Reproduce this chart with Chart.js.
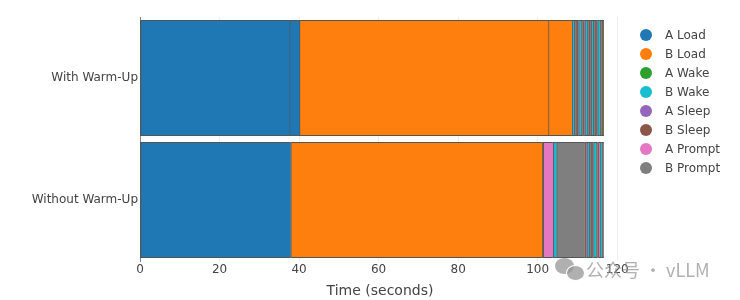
<!DOCTYPE html>
<html lang="en">
<head>
    <meta charset="UTF-8">
    <title>Warm-Up Timeline</title>
    <style>
        body { margin: 0; background: #fff; font-family: 'DejaVu Sans', sans-serif; }
        #wrap { position: relative; width: 740px; height: 300px; }
        #legend { position: absolute; left: 640px; top: 25px; }
        .item { height: 19px; display: flex; align-items: center; font-size: 12px; color: #444; }
        .dot { width: 12px; height: 12px; border-radius: 50%; margin-right: 13px; }
        #mark { position: absolute; left: 555px; top: 256px; display: flex; align-items: center;
                color: rgba(150,150,150,0.75); font-family: 'Noto Sans CJK SC', sans-serif; font-size: 18px; }
        .bubble { position: relative; width: 30px; height: 24px; margin-right: 1px; }
        .bubble span { position: absolute; border-radius: 50%; background: rgba(150,150,150,0.75); }
    </style>
</head>
<body>
<div id="wrap">
    <canvas id="timeline" width="740" height="300"></canvas>
    <div id="legend"></div>
    <div id="mark">
        <div class="bubble">
            <span style="left:0;top:1px;width:19px;height:16px"></span>
            <span style="left:11px;top:8px;width:17px;height:14px;border:1px solid #fff"></span>
        </div>
        公众号 · vLLM
    </div>
</div>

<script src="https://cdn.jsdelivr.net/npm/chart.js"></script>
<script>
    const categories = ['With Warm-Up', 'Without Warm-Up'];
    const seriesNames = ['A Load', 'B Load', 'A Wake', 'B Wake', 'A Sleep', 'B Sleep', 'A Prompt', 'B Prompt'];
    const seriesColors = ['#1f77b4', '#ff7f0e', '#2ca02c', '#17becf', '#9467bd', '#8c564b', '#e377c2', '#7f7f7f'];
    const xTicks = [0, 20, 40, 60, 80, 100, 120];

    // each bar is a sequence of steps (seconds), stacked in order
    const withWarmUpSteps = [
        'A Load', 'A Load', 'B Load', 'B Load',
        'A Sleep', 'B Wake', 'B Prompt', 'B Sleep', 'A Wake', 'A Prompt',
        'A Sleep', 'B Wake', 'B Prompt', 'B Sleep', 'A Wake', 'A Prompt',
        'A Sleep', 'B Wake', 'B Prompt', 'B Sleep', 'A Wake', 'A Prompt',
        'A Sleep', 'B Wake', 'B Prompt', 'B Sleep', 'A Wake', 'A Prompt',
        'A Sleep', 'B Wake', 'B Prompt', 'B Sleep', 'A Wake', 'A Prompt'
    ];
    const withWarmUpTimes = [
        37.6, 2.5, 62.6, 5.9,
        0.1, 0.5, 0.55, 0.25, 0.1, 0.15,
        0.1, 0.45, 0.6, 0.2, 0.1, 0.1,
        0.1, 0.5, 0.5, 0.25, 0.1, 0.15,
        0.1, 0.45, 0.55, 0.2, 0.1, 0.2,
        0.1, 0.55, 0.55, 0.25, 0.1, 0.15
    ];

    const withoutWarmUpSteps = [
        'A Load', 'B Load', 'B Sleep', 'A Wake', 'A Prompt', 'A Sleep', 'B Wake', 'B Prompt',
        'B Sleep', 'A Wake', 'A Prompt', 'A Sleep', 'B Wake', 'B Prompt',
        'B Sleep', 'A Wake', 'A Prompt', 'A Sleep', 'B Wake', 'B Prompt',
        'B Sleep', 'A Wake', 'A Prompt', 'A Sleep', 'B Wake', 'B Prompt'
    ];
    const withoutWarmUpTimes = [
        37.9, 63.2, 0.2, 0.1, 2.4, 0.15, 0.8, 7.1,
        0.2, 0.1, 0.15, 0.1, 0.5, 0.6,
        0.2, 0.1, 0.2, 0.1, 0.45, 0.55,
        0.25, 0.1, 0.15, 0.1, 0.45, 0.5
    ];

    const datasets = [];
    function addBar(steps, times, barIndex) {
        steps.forEach((name, i) => {
            datasets.push({
                label: name,
                data: categories.map((_, j) => j === barIndex ? times[i] : null),
                backgroundColor: seriesColors[seriesNames.indexOf(name)],
                borderColor: 'rgb(85,85,85)',
                borderWidth: { left: 1.2, right: 0, top: 1, bottom: 1 },
                borderSkipped: false,
                inflateAmount: 0.5,
                barPercentage: 0.943,
                categoryPercentage: 1,
                stack: 'timeline'
            });
        });
    }
    addBar(withWarmUpSteps, withWarmUpTimes, 0);
    addBar(withoutWarmUpSteps, withoutWarmUpTimes, 1);

    // legend
    const legend = document.getElementById('legend');
    seriesNames.forEach((name, i) => {
        const row = document.createElement('div');
        row.className = 'item';
        row.innerHTML = `<div class="dot" style="background:${seriesColors[i]}"></div>${name}`;
        legend.appendChild(row);
    });

    Chart.defaults.font.family = "'DejaVu Sans', sans-serif";

    new Chart(document.getElementById('timeline'), {
        type: 'bar',
        data: { labels: categories, datasets: datasets },
        options: {
            indexAxis: 'y',
            responsive: false,
            animation: false,
            layout: { padding: { top: 17, right: 120, left: 0, bottom: 0 } },
            plugins: { legend: { display: false }, tooltip: { enabled: false } },
            scales: {
                x: {
                    stacked: true,
                    min: 0,
                    max: 120.7,
                    afterBuildTicks: axis => { axis.ticks = xTicks.map(v => ({ value: v })); },
                    afterFit: scale => { scale.height = 39; },
                    grid: { color: '#eee', drawTicks: false },
                    border: { display: false },
                    ticks: { color: '#444', font: { size: 12 }, padding: 2, maxRotation: 0 },
                    title: { display: true, text: 'Time (seconds)', color: '#444', font: { size: 14 }, padding: { top: 7, bottom: 0 } }
                },
                y: {
                    stacked: true,
                    grid: { display: false, drawTicks: false },
                    border: { display: true, color: '#888' },
                    ticks: { color: '#444', font: { size: 12 }, padding: 2 },
                    afterFit: scale => { scale.width = 140; }
                }
            }
        }
    });
</script>
</body>
</html>
